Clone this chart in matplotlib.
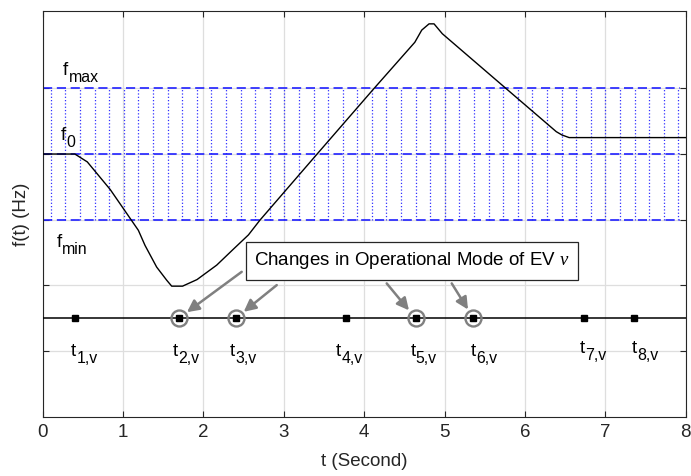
import numpy as np
import matplotlib
matplotlib.use("Agg")
import matplotlib.pyplot as plt

plt.rcParams['font.family'] = ['Liberation Sans', 'DejaVu Sans']
plt.rcParams['mathtext.fontset'] = 'custom'
plt.rcParams['mathtext.rm'] = 'Liberation Sans'
plt.rcParams['mathtext.it'] = 'Liberation Serif:italic'
plt.rcParams['mathtext.default'] = 'regular'

# ---- data ----
curve_t = [0.0, 0.40, 0.555, 0.84, 1.19, 1.273, 1.418, 1.543, 1.605, 1.74, 1.92,
           2.165, 2.37, 2.56, 2.70, 3.40, 4.11, 4.63, 4.716, 4.807, 4.869, 4.972,
           5.79, 6.39, 6.46, 6.55, 8.0]
curve_f = [4.0, 4.0, 3.88, 3.46, 2.84, 2.61, 2.28, 2.08, 1.99, 1.99, 2.09,
           2.31, 2.55, 2.77, 2.99, 3.98, 4.98, 5.70, 5.885, 5.98, 5.98, 5.83,
           4.97, 4.34, 4.29, 4.25, 4.25]

f_min, f_0, f_max = 3.0, 4.0, 5.0
event_level = 1.5
event_t = [0.406, 1.69, 2.40, 3.77, 4.64, 5.36, 6.73, 7.36]
event_subs = ['1,v', '2,v', '3,v', '4,v', '5,v', '6,v', '7,v', '8,v']
label_x = [0.352, 1.613, 2.33, 3.649, 4.574, 5.329, 6.677, 7.329]
label_y = [0.93, 0.93, 0.93, 0.93, 0.93, 0.93, 0.975, 0.975]
circled_t = [1.69, 2.40, 4.64, 5.36]
arrow_start_x = [2.476, 2.912, 4.280, 5.089]
arrow_start_y = [2.208, 2.006, 2.032, 2.032]
annot_text = r'Changes in Operational Mode of EV $\mathit{\nu}$'
annot_x, annot_y = 4.595, 2.376
band_subs = ['max', '0', 'min']
band_label_x = [0.25, 0.22, 0.17]
band_label_y = [5.2, 4.21, 2.58]
hatch_t = np.linspace(0.1, 7.91, 44)  # dotted band pattern

x_ticks = [0, 1, 2, 3, 4, 5, 6, 7, 8]
y_ticks = [1, 2, 3, 4, 5]

# ---- figure ----
fig = plt.figure(figsize=(6.91, 4.76), dpi=100)
ax = fig.add_axes([0.0618, 0.124, 0.9305, 0.8535])
ax.set_xlim(0, 8)
ax.set_ylim(0, 6.18)

fs = 13.5
sub_fs = fs * 0.85
dark = '#262626'

ax.set_axisbelow(True)
ax.grid(True, color='#dedede', lw=0.9)
ax.set_xticks(x_ticks)
ax.set_yticks(y_ticks)
ax.set_yticklabels([])
ax.tick_params(direction='in', length=4, width=0.8, top=True, right=True,
               colors=dark, labelsize=fs, pad=5)
for s in ax.spines.values():
    s.set_color(dark)
    s.set_linewidth(0.8)

# band
ax.vlines(hatch_t, f_min, f_max, colors='#3030ff', linestyles=':', lw=0.9, zorder=1)
for lvl in (f_min, f_0, f_max):
    ax.plot([0, 7.93], [lvl, lvl], color='#2020ff', lw=1.2, dashes=(5.5, 2.8), zorder=2)

# curve
ax.plot(curve_t, curve_f, color='black', lw=1.0, zorder=3)

# event line
ax.plot([0, 8], [event_level, event_level], color='black', lw=1.1, zorder=3)
ax.plot(event_t, [event_level] * len(event_t), 's', color='black', ms=4.5, zorder=5)
ax.plot(circled_t, [event_level] * len(circled_t), 'o', mfc='none', mec='#808080',
        mew=1.7, ms=11.5, zorder=4)


def sub_label(x, y, main, sub):
    t = ax.text(x, y, main, fontsize=fs, ha='left', va='baseline', color='black')
    ax.annotate(sub, xy=(1, 0), xycoords=t, xytext=(0.3, -2.0),
                textcoords='offset points', fontsize=sub_fs, ha='left',
                va='baseline', color='black')


for x, y, s in zip(label_x, label_y, event_subs):
    sub_label(x, y, 't', s)

for x, y, s in zip(band_label_x, band_label_y, band_subs):
    sub_label(x, y, 'f', s)

# annotation box
ax.text(annot_x, annot_y, annot_text, fontsize=fs, ha='center', va='center', zorder=6,
        bbox=dict(boxstyle='square,pad=0.45', fc='white', ec=dark, lw=0.9))
for sx, sy, tx in zip(arrow_start_x, arrow_start_y, circled_t):
    ax.annotate('', xy=(tx, event_level), xytext=(sx, sy), zorder=7,
                arrowprops=dict(arrowstyle='-|>,head_length=0.6,head_width=0.3',
                                mutation_scale=12, color='#808080', lw=1.8,
                                shrinkA=0, shrinkB=7.5))

ax.set_xlabel('t (Second)', fontsize=fs, color=dark, labelpad=9)
ax.set_ylabel('f(t) (Hz)', fontsize=fs, color=dark, labelpad=4)

fig.savefig('out.png', dpi=100)
